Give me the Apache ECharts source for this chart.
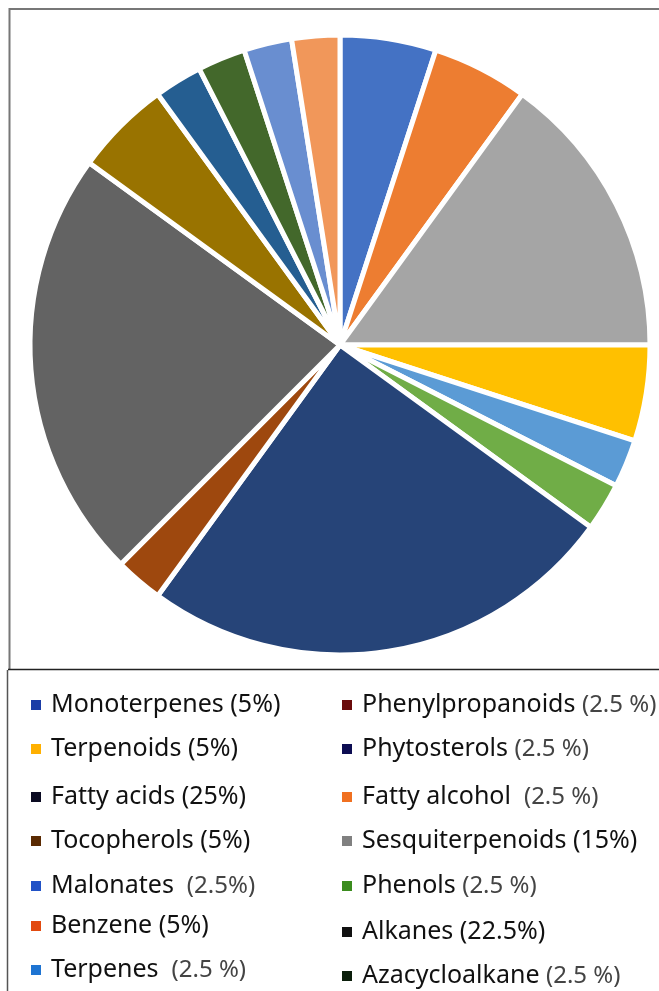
<!DOCTYPE html>
<html>
<head>
<meta charset="utf-8">
<script src="https://cdn.jsdelivr.net/npm/echarts@6/dist/echarts.min.js"></script>
<style>
  html, body { margin: 0; padding: 0; background: #fff; }
  #main { width: 659px; height: 991px; }
</style>
</head>
<body>
<div id="main"></div>
<script>
// slices, clockwise from 12 o'clock
var sliceNames = ['Monoterpenes', 'Benzene', 'Sesquiterpenoids', 'Terpenoids', 'Terpenes', 'Phenols',
  'Fatty acids', 'Phenylpropanoids', 'Alkanes', 'Tocopherols', 'Malonates', 'Azacycloalkane',
  'Phytosterols', 'Fatty alcohol'];
var sliceValues = [5, 5, 15, 5, 2.5, 2.5, 25, 2.5, 22.5, 5, 2.5, 2.5, 2.5, 2.5];
var sliceColors = ['#4472C4', '#ED7D31', '#A5A5A5', '#FFC000', '#5B9BD5', '#70AD47',
  '#264478', '#9E480E', '#636363', '#997300', '#255E91', '#43682B', '#698ED0', '#F1975A'];

// legend, row by row (left, right)
var legendNames = ['Monoterpenes', 'Phenylpropanoids', 'Terpenoids', 'Phytosterols', 'Fatty acids',
  'Fatty alcohol', 'Tocopherols', 'Sesquiterpenoids', 'Malonates', 'Phenols', 'Benzene', 'Alkanes',
  'Terpenes', 'Azacycloalkane'];
var legendPct = ['(5%)', '(2.5 %)', '(5%)', '(2.5 %)', '(25%)', '(2.5 %)', '(5%)', '(15%)',
  '(2.5%)', '(2.5 %)', '(5%)', '(22.5%)', '(2.5 %)', '(2.5 %)'];
var legendGrey = [false, true, false, true, false, true, false, false, true, true, false, false, true, true];
var legendSep = [' ', ' ', ' ', ' ', ' ', '  ', ' ', ' ', '  ', ' ', ' ', ' ', '  ', ' '];
var legendColors = ['#1B3DA6', '#6A0B0B', '#FFB000', '#0D0D52', '#0B0B22', '#F07020', '#5A2A02',
  '#808080', '#2152C6', '#3B8C1E', '#E24A10', '#111111', '#1E74D2', '#0B1E0B'];

var colX = [29, 340];
var rowY = [[705, 749, 797, 841, 886, 926, 970], [705, 749, 797, 841, 886, 932, 976]];

var myChart = echarts.init(document.getElementById('main'));

var legends = legendNames.map(function (name, i) {
  var col = i % 2, row = Math.floor(i / 2);
  var pctStyle = legendGrey[i] ? 'g' : 'n';
  return {
    left: colX[col],
    top: rowY[col][row] - 15,
    padding: 0,
    icon: 'rect',
    itemWidth: 12,
    itemHeight: 12,
    selectedMode: false,
    data: [{ name: name, itemStyle: { color: legendColors[i] } }],
    formatter: function (n) {
      return '{n|' + n + legendSep[i] + '}{' + pctStyle + '|' + legendPct[i] + '}';
    },
    textStyle: {
      fontFamily: 'Noto Sans',
      fontSize: 25,
      lineHeight: 30,
      color: '#111',
      padding: [0, 0, 0, 4],
      rich: {
        n: { fontFamily: 'Noto Sans', fontSize: 25, color: '#111', lineHeight: 30 },
        g: { fontFamily: 'Noto Sans', fontSize: 24, color: '#444', lineHeight: 30 }
      }
    }
  };
});

var option = {
  backgroundColor: '#fff',
  animation: false,
  legend: legends,
  graphic: [
    { type: 'line', shape: { x1: 9, y1: 9, x2: 659, y2: 9 }, style: { stroke: '#777', lineWidth: 2 } },
    { type: 'line', shape: { x1: 9.5, y1: 8, x2: 9.5, y2: 669 }, style: { stroke: '#777', lineWidth: 2 } },
    { type: 'line', shape: { x1: 8, y1: 669.5, x2: 659, y2: 669.5 }, style: { stroke: '#222', lineWidth: 1.5 } },
    { type: 'line', shape: { x1: 7.5, y1: 670, x2: 7.5, y2: 991 }, style: { stroke: '#555', lineWidth: 1.5 } }
  ],
  series: [
    {
      type: 'pie',
      center: [340, 345],
      radius: [0, 310],
      startAngle: 90,
      clockwise: true,
      label: { show: false },
      labelLine: { show: false },
      emphasis: { disabled: true },
      itemStyle: { borderColor: '#fff', borderWidth: 5 },
      data: sliceNames.map(function (n, i) {
        return { name: n, value: sliceValues[i], itemStyle: { color: sliceColors[i] } };
      })
    }
  ]
};
myChart.setOption(option);
</script>
</body>
</html>
